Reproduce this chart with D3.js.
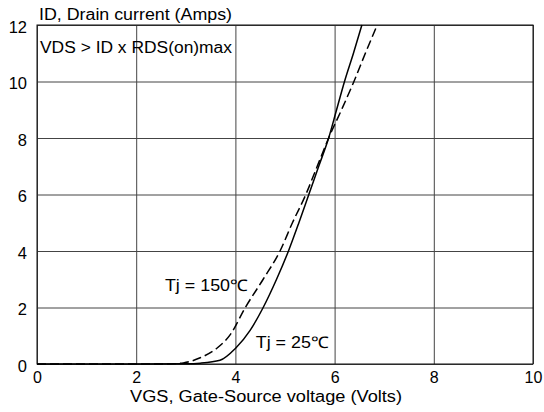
<!DOCTYPE html>
<html>
<head>
    <title>Transfer characteristics</title>
    <script src="https://d3js.org/d3.v7.min.js"></script>
    <style>
        body { margin: 0; background: #fff; }
        text { font-family: "Liberation Sans", Arial, sans-serif; }
    </style>
</head>
<body>
    <div id="vis"></div>
    <script>
        // VGS (Volts) vs ID (Amps)
        var vgs25 = [0, 2, 3, 3.29, 3.69, 4.0, 4.3, 4.56, 4.83, 5.07, 5.28, 5.48, 5.68, 5.88, 6.04, 6.2, 6.38, 6.55];
        var id25  = [0, 0, 0.01, 0.03, 0.13, 0.55, 1.2, 2, 3, 4, 5, 6, 7, 8, 9, 10, 11, 12];
        var vgs150 = [0, 2, 2.6, 2.95, 3.29, 3.62, 3.9, 4.2, 4.56, 4.9, 5.15, 5.42, 5.65, 5.88, 6.14, 6.39, 6.62, 6.86];
        var id150  = [0, 0, 0, 0.04, 0.22, 0.55, 1.05, 2, 3, 4, 5, 6, 7, 8, 9, 10, 11, 12];
        var xTicks = [0, 2, 4, 6, 8, 10];
        var yTicks = [0, 2, 4, 6, 8, 10, 12];

        var margin = {top: 25, left: 37, bottom: 48, right: 11};
        var width = 544 - margin.left - margin.right;
        var height = 412 - margin.top - margin.bottom;

        var svg = d3.select("#vis").append("svg")
            .attr("width", 544)
            .attr("height", 412)
            .append("g")
            .attr("transform", "translate(" + margin.left + "," + margin.top + ")");

        var x = d3.scaleLinear().domain([0, 10]).range([0, width]);
        var y = d3.scaleLinear().domain([0, 12]).range([height, 0]);

        // grid
        svg.append("g")
            .attr("transform", "translate(0," + height + ")")
            .call(d3.axisBottom(x).tickValues(xTicks).tickSize(-height).tickFormat(""))
            .call(g => g.select(".domain").remove())
            .selectAll("line").attr("stroke", "#444");
        svg.append("g")
            .call(d3.axisLeft(y).tickValues(yTicks).tickSize(-width).tickFormat(""))
            .call(g => g.select(".domain").remove())
            .selectAll("line").attr("stroke", "#444");

        svg.append("rect")
            .attr("width", width)
            .attr("height", height)
            .attr("fill", "none")
            .attr("stroke", "#111");

        // tick labels
        svg.append("g")
            .attr("transform", "translate(0," + height + ")")
            .call(d3.axisBottom(x).tickValues(xTicks).tickSize(0).tickPadding(8))
            .call(g => g.select(".domain").remove())
            .selectAll("text")
                .attr("font-size", 16)
                .attr("font-family", "Liberation Sans, Arial, sans-serif")
                .attr("fill", "#000");
        svg.append("g")
            .call(d3.axisLeft(y).tickValues(yTicks).tickSize(0).tickPadding(10))
            .call(g => g.select(".domain").remove())
            .selectAll("text")
                .attr("font-size", 16.5)
                .attr("font-family", "Liberation Sans, Arial, sans-serif")
                .attr("fill", "#000")
                .attr("dy", "0.45em");

        var line = d3.line()
            .x(function(d) { return x(d[0]); })
            .y(function(d) { return y(d[1]); })
            .curve(d3.curveMonotoneX);

        svg.append("path")
            .datum(d3.zip(vgs25, id25))
            .attr("d", line)
            .attr("fill", "none")
            .attr("stroke", "#000")
            .attr("stroke-width", 1.5);

        svg.append("path")
            .datum(d3.zip(vgs150, id150))
            .attr("d", line)
            .attr("fill", "none")
            .attr("stroke", "#000")
            .attr("stroke-width", 1.5)
            .attr("stroke-dasharray", "9,4");

        // labels (the original font is a little wider than Arial)
        function label(tx, ty, s, len, anchor) {
            svg.append("text")
                .attr("x", tx).attr("y", ty)
                .attr("font-size", 16)
                .attr("text-anchor", anchor || "start")
                .attr("textLength", len)
                .attr("lengthAdjust", "spacingAndGlyphs")
                .text(s);
        }
        label(2, -5, "ID, Drain current (Amps)", 193);
        label(3, 28, "VDS > ID x RDS(on)max", 192);
        label(93, height + 37.5, "VGS, Gate-Source voltage (Volts)", 272);
        label(x(2.58), y(2.6), "Tj = 150\u2103", 83);
        label(x(4.41), y(0.56), "Tj = 25\u2103", 73);
    </script>
</body>
</html>
